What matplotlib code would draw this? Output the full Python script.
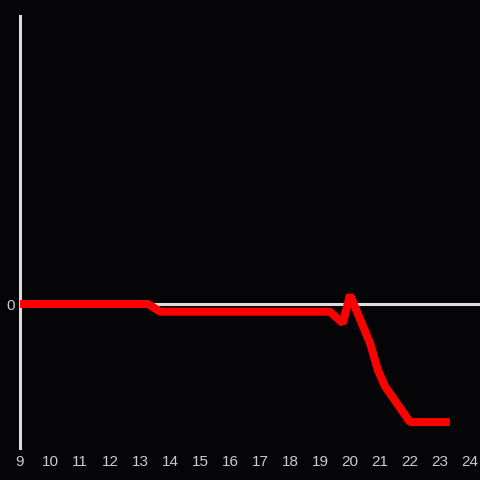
import matplotlib
matplotlib.use('Agg')
import matplotlib.pyplot as plt

hours = [9, 13.27, 13.67, 19.33, 19.76, 20.0, 20.67, 20.93, 21.17, 22.0, 23.33]
values = [0, 0, -0.8, -0.8, -2.0, 0.94, -4.1, -6.9, -8.6, -12.3, -12.3]
xticks = list(range(9, 25))

BG = '#050407'
FG = '#dddddd'

plt.rcParams['font.family'] = 'Liberation Sans'

fig = plt.figure(figsize=(4.8, 4.8), dpi=100, facecolor=BG)
ax = fig.add_axes([20/480, 32/480, 460/480, 432/480], facecolor=BG)

ax.axhline(0, color=FG, lw=2.2, zorder=1)
ax.plot(hours, values, color='#ff0000', lw=5.8, solid_joinstyle='bevel',
        solid_capstyle='butt', zorder=3)

ax.set_xlim(9, 9 + 460/30)
ax.set_ylim(-15, 30)
ax.set_xticks(xticks)
ax.set_yticks([0])
ax.tick_params(length=0, colors='#cccccc', labelsize=11, pad=5)
ax.tick_params(axis='y', pad=4)

for s in ['top', 'right', 'bottom']:
    ax.spines[s].set_visible(False)
ax.spines['left'].set_color(FG)
ax.spines['left'].set_linewidth(2.2)

fig.savefig('out.png', dpi=100, facecolor=BG)
